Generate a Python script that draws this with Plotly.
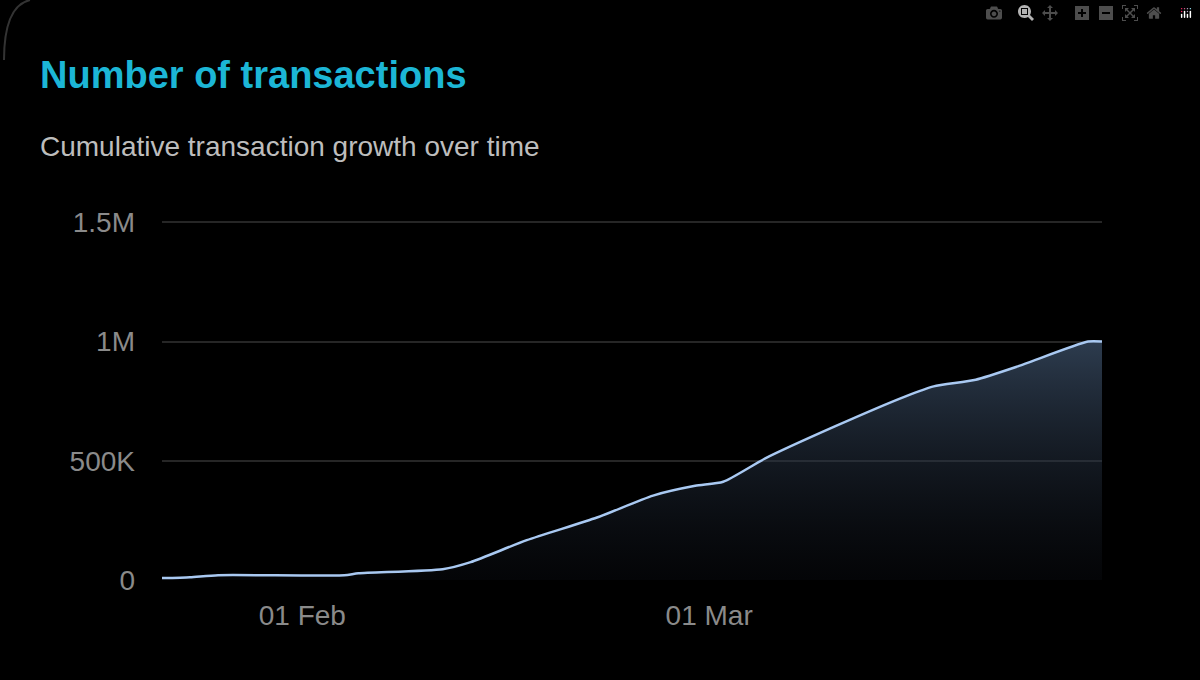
import plotly.graph_objects as go

dates = ["2024-01-22","2024-01-24","2024-01-26","2024-02-04","2024-02-05","2024-02-11",
         "2024-02-13","2024-02-17","2024-02-22","2024-02-26","2024-02-29","2024-03-02",
         "2024-03-05","2024-03-10","2024-03-15","2024-03-17","2024-03-20","2024-03-23",
         "2024-03-28","2024-03-29"]
values = [8000,12000,20000,20000,28000,45000,75000,167000,262000,354000,395000,412000,
          510000,645000,770000,812000,840000,896000,1000000,1000000]
y_ticks = [0,500000,1000000,1500000]
y_labels = ["0","500K","1M","1.5M"]

L, R, T, B = 162, 98, 220, 100
PW, PH = 1200 - L - R, 680 - T - B
def px(x): return (x - L) / PW
def py(y): return 1 + (T - y) / PH

fig = go.Figure(go.Scatter(
    x=dates, y=values, mode="lines",
    line=dict(color="#a9c9f2", width=2.5, shape="spline", smoothing=0.6),
    fill="tozeroy",
    fillgradient=dict(type="vertical",
                      colorscale=[[0,"rgba(20,25,35,0.2)"],[1,"rgba(60,80,105,0.75)"]]),
    hoverinfo="skip"))

fig.update_layout(
    width=1200, height=680, paper_bgcolor="#000", plot_bgcolor="#000",
    margin=dict(l=L, r=R, t=T, b=B), showlegend=False,
    font=dict(family="Liberation Sans, Arial", color="#8a8a8a", size=28),
    xaxis=dict(range=["2024-01-22","2024-03-29"], showgrid=False, zeroline=False,
               tickformat="%d %b", dtick="M1", tick0="2024-01-01", ticks="",
               tickfont=dict(size=28, color="#8a8a8a"), showline=False,
               ticklabelstandoff=16),
    yaxis=dict(range=[0,1510000], tickvals=y_ticks, ticktext=y_labels,
               gridcolor="#262626", gridwidth=1.5, zeroline=False, ticks="",
               tickfont=dict(size=28, color="#8a8a8a"), ticklabelstandoff=26),
    annotations=[
        dict(text="<b>Number of transactions</b>", x=px(38), y=py(75), xref="paper", yref="paper",
             showarrow=False, xanchor="left", yanchor="middle",
             font=dict(size=38, color="#1cb6d6")),
        dict(text="Cumulative transaction growth over time", x=px(38), y=py(146),
             xref="paper", yref="paper",
             showarrow=False, xanchor="left", yanchor="middle",
             font=dict(size=28, color="#bdbdbd")),
    ],
)
fig.add_shape(type="path", xref="paper", yref="paper",
              path="M %f %f Q %f %f %f %f" % (px(4), py(60), px(4), py(6), px(30), py(0)),
              line=dict(color="#333", width=2))
fig.write_html("out.html",
               post_script="document.body.style.margin='0';document.body.style.background='#000';")
